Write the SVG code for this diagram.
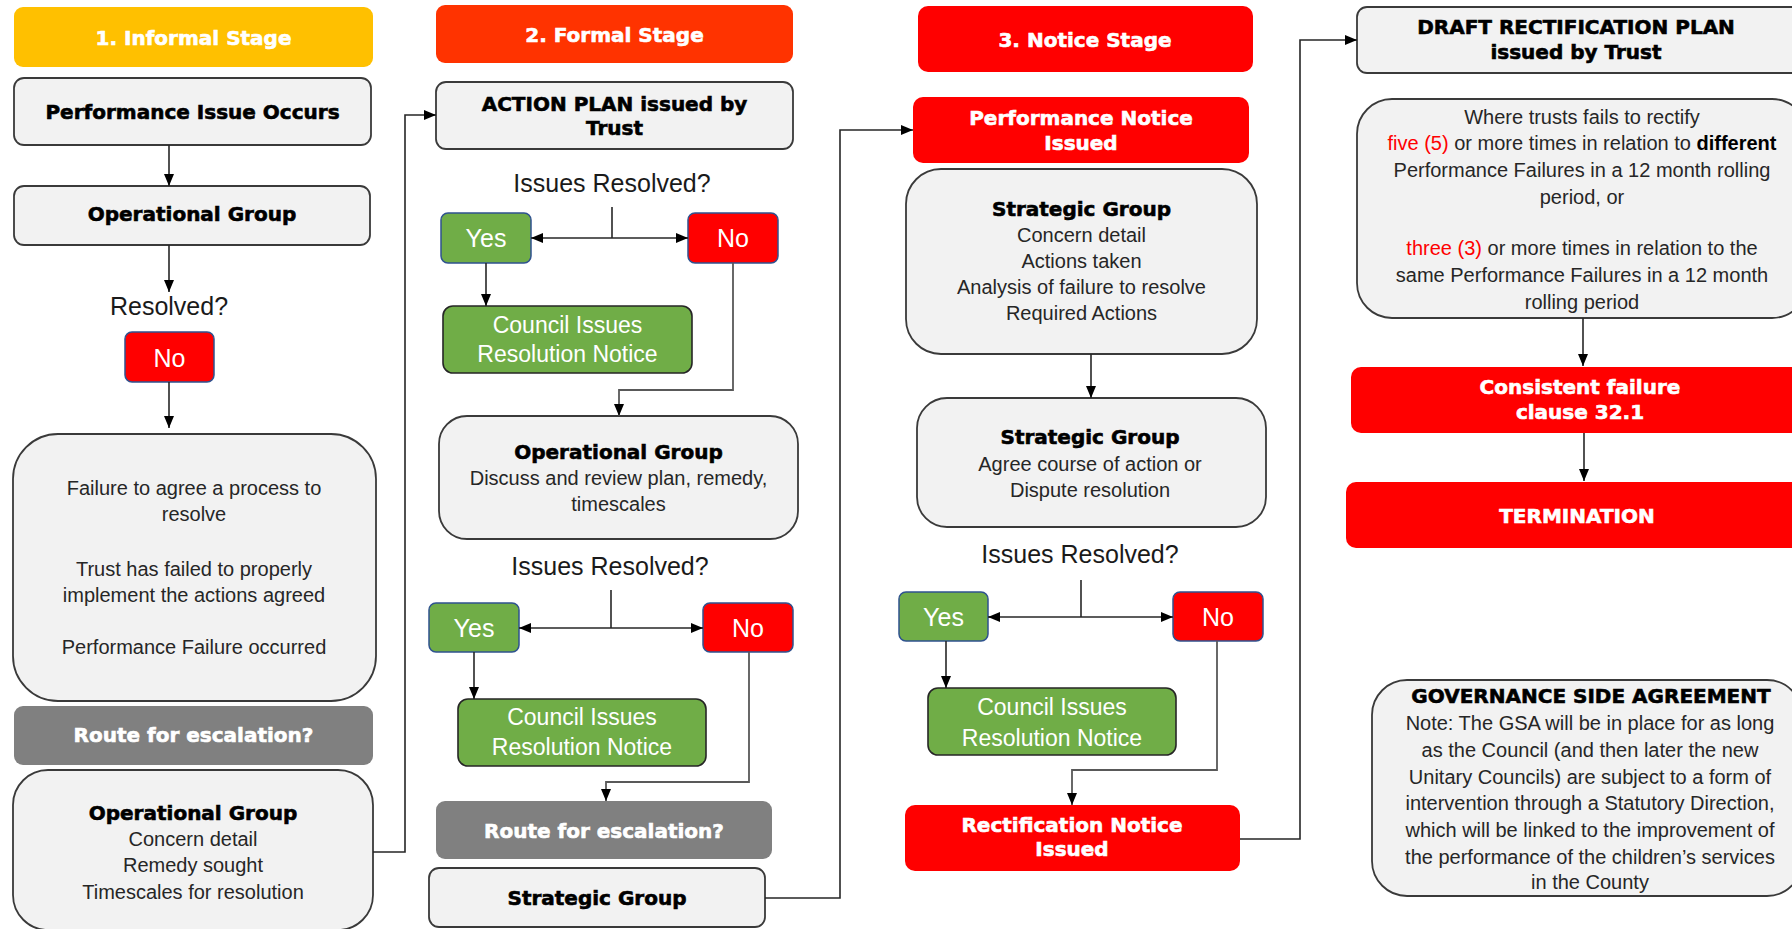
<svg xmlns="http://www.w3.org/2000/svg" width="1792" height="929" viewBox="0 0 1792 929">
<defs>
<marker id="ah" viewBox="0 0 12 12" refX="12" refY="6" markerWidth="12" markerHeight="12" markerUnits="userSpaceOnUse" orient="auto-start-reverse">
<path d="M0,1 L12,6 L0,11 z" fill="#000"/>
</marker>
<style>
.box{fill:#F2F2F2;stroke:#3a3a3a;stroke-width:1.8}
.red{fill:#FF0000}
.grn{fill:#70AD47;stroke:#2F528F;stroke-width:1.5}
.cgrn{fill:#70AD47;stroke:#262626;stroke-width:1.6}
.yn-red{fill:#FF0000;stroke:#2F528F;stroke-width:1.5}
.route{fill:#808080}
.hb{font-family:"DejaVu Sans",sans-serif;font-weight:bold;font-size:20px;text-anchor:middle;fill:#000;stroke:#000;stroke-width:0.6}
.hw{font-family:"DejaVu Sans",sans-serif;font-weight:bold;font-size:20px;text-anchor:middle;fill:#fff;stroke:#fff;stroke-width:0.6}
.t{font-family:"Liberation Sans",Arial,sans-serif;font-size:20px;text-anchor:middle;fill:#262626}
.q{font-family:"Liberation Sans",Arial,sans-serif;font-size:25px;text-anchor:middle;fill:#1a1a1a}
.yn{font-family:"Liberation Sans",Arial,sans-serif;font-size:25px;text-anchor:middle;fill:#fff}
.cw{font-family:"Liberation Sans",Arial,sans-serif;font-size:23px;text-anchor:middle;fill:#fff}
.c{fill:none;stroke:#262626;stroke-width:1.6}
.cg{fill:none;stroke:#595959;stroke-width:1.8}
.rt{fill:#FF0000}
</style>
</defs>

<g id="stage1"><rect x="14" y="7" width="359" height="60" rx="9" fill="#FFC000"/><text class="hw" x="193.5" y="45">1. Informal Stage</text></g>
<g id="perf-issue"><rect class="box" x="14" y="78" width="357" height="67" rx="10"/><text class="hb" x="192.5" y="118.5" font-size="20.5">Performance Issue Occurs</text></g>
<g id="op-group-1"><rect class="box" x="14" y="186" width="356" height="59" rx="10"/><text class="hb" x="192" y="221">Operational Group</text></g>
<g id="resolved-q"><text class="q" x="169" y="315">Resolved?</text></g>
<g id="no-1"><rect class="yn-red" x="125" y="332" width="89" height="50" rx="7"/><text class="yn" x="169.5" y="367">No</text></g>
<g id="failure-box"><rect class="box" x="13" y="434" width="363" height="267" rx="45"/>
<text class="t" x="194" y="495">Failure to agree a process to</text>
<text class="t" x="194" y="521">resolve</text>
<text class="t" x="194" y="576">Trust has failed to properly</text>
<text class="t" x="194" y="602">implement the actions agreed</text>
<text class="t" x="194" y="654">Performance Failure occurred</text></g>
<g id="route-1"><rect class="route" x="14" y="706" width="359" height="59" rx="9"/><text class="hw" x="193.5" y="742">Route for escalation?</text></g>
<g id="op-group-2"><rect class="box" x="13" y="770" width="360" height="160" rx="35"/>
<text class="hb" x="193" y="820">Operational Group</text>
<text class="t" x="193" y="846">Concern detail</text>
<text class="t" x="193" y="872">Remedy sought</text>
<text class="t" x="193" y="899">Timescales for resolution</text></g>

<g id="stage2"><rect x="436" y="5" width="357" height="58" rx="9" fill="#FF3300"/><text class="hw" x="614.5" y="42">2. Formal Stage</text></g>
<g id="action-plan"><rect class="box" x="436" y="82" width="357" height="67" rx="10"/><text class="hb" x="614.5" y="111">ACTION PLAN issued by</text><text class="hb" x="614.5" y="135">Trust</text></g>
<g id="issues-q-1"><text class="q" x="612" y="192">Issues Resolved?</text></g>
<g id="yes-2a"><rect class="grn" x="441" y="213" width="90" height="50" rx="7"/><text class="yn" x="486" y="247">Yes</text></g>
<g id="no-2a"><rect class="yn-red" x="688" y="213" width="90" height="50" rx="7"/><text class="yn" x="733" y="247">No</text></g>
<g id="council-2a"><rect class="cgrn" x="443" y="306" width="249" height="67" rx="10"/><text class="cw" x="567.5" y="333">Council Issues</text><text class="cw" x="567.5" y="362">Resolution Notice</text></g>
<g id="op-group-3"><rect class="box" x="439" y="416" width="359" height="123" rx="28"/>
<text class="hb" x="618.5" y="459">Operational Group</text>
<text class="t" x="618.5" y="485">Discuss and review plan, remedy,</text>
<text class="t" x="618.5" y="511">timescales</text></g>
<g id="issues-q-2"><text class="q" x="610" y="575">Issues Resolved?</text></g>
<g id="yes-2b"><rect class="grn" x="429" y="603" width="90" height="49" rx="7"/><text class="yn" x="474" y="637">Yes</text></g>
<g id="no-2b"><rect class="yn-red" x="703" y="603" width="90" height="49" rx="7"/><text class="yn" x="748" y="637">No</text></g>
<g id="council-2b"><rect class="cgrn" x="458" y="699" width="248" height="67" rx="10"/><text class="cw" x="582" y="725">Council Issues</text><text class="cw" x="582" y="755">Resolution Notice</text></g>
<g id="route-2"><rect class="route" x="436" y="801" width="336" height="58" rx="9"/><text class="hw" x="604" y="838">Route for escalation?</text></g>
<g id="strategic-1"><rect class="box" x="429" y="868" width="336" height="59" rx="10"/><text class="hb" x="597" y="905">Strategic Group</text></g>

<g id="stage3"><rect class="red" x="918" y="6" width="335" height="66" rx="10"/><text class="hw" x="1085" y="47">3. Notice Stage</text></g>
<g id="perf-notice"><rect class="red" x="913" y="97" width="336" height="66" rx="10"/><text class="hw" x="1081" y="125">Performance Notice</text><text class="hw" x="1081" y="150">Issued</text></g>
<g id="strategic-2"><rect class="box" x="906" y="169" width="351" height="185" rx="35"/>
<text class="hb" x="1081.5" y="216">Strategic Group</text>
<text class="t" x="1081.5" y="242">Concern detail</text>
<text class="t" x="1081.5" y="268">Actions taken</text>
<text class="t" x="1081.5" y="294">Analysis of failure to resolve</text>
<text class="t" x="1081.5" y="320">Required Actions</text></g>
<g id="strategic-3"><rect class="box" x="917" y="398" width="349" height="129" rx="30"/>
<text class="hb" x="1090" y="444">Strategic Group</text>
<text class="t" x="1090" y="471">Agree course of action or</text>
<text class="t" x="1090" y="497">Dispute resolution</text></g>
<g id="issues-q-3"><text class="q" x="1080" y="563">Issues Resolved?</text></g>
<g id="yes-3"><rect class="grn" x="899" y="592" width="89" height="49" rx="7"/><text class="yn" x="943.5" y="626">Yes</text></g>
<g id="no-3"><rect class="yn-red" x="1173" y="592" width="90" height="49" rx="7"/><text class="yn" x="1218" y="626">No</text></g>
<g id="council-3"><rect class="cgrn" x="928" y="688" width="248" height="67" rx="10"/><text class="cw" x="1052" y="715">Council Issues</text><text class="cw" x="1052" y="746">Resolution Notice</text></g>
<g id="rect-notice"><rect class="red" x="905" y="805" width="335" height="66" rx="10"/><text class="hw" x="1072" y="832">Rectification Notice</text><text class="hw" x="1072" y="856">Issued</text></g>

<g id="draft-plan"><rect class="box" x="1357" y="7" width="450" height="66" rx="10"/><text class="hb" x="1576" y="33.5" font-size="21">DRAFT RECTIFICATION PLAN</text><text class="hb" x="1576" y="58.5" font-size="21">issued by Trust</text></g>
<g id="where-box"><rect class="box" x="1357" y="99" width="450" height="219" rx="35"/>
<text class="t" x="1582" y="124">Where trusts fails to rectify</text>
<text class="t" x="1582" y="150"><tspan class="rt">five (5)</tspan> or more times in relation to <tspan font-weight="bold" fill="#000">different</tspan></text>
<text class="t" x="1582" y="177">Performance Failures in a 12 month rolling</text>
<text class="t" x="1582" y="204">period, or</text>
<text class="t" x="1582" y="255"><tspan class="rt">three (3)</tspan> or more times in relation to the</text>
<text class="t" x="1582" y="282">same Performance Failures in a 12 month</text>
<text class="t" x="1582" y="309">rolling period</text></g>
<g id="consistent"><rect class="red" x="1351" y="367" width="460" height="66" rx="10"/><text class="hw" x="1580" y="394">Consistent failure</text><text class="hw" x="1580" y="419">clause 32.1</text></g>
<g id="termination"><rect class="red" x="1346" y="482" width="460" height="66" rx="10"/><text class="hw" x="1577" y="522.5" font-size="21">TERMINATION</text></g>
<g id="gsa"><rect class="box" x="1372" y="680" width="430" height="216" rx="35"/>
<text class="hb" x="1591" y="702.5" font-size="21">GOVERNANCE SIDE AGREEMENT</text>
<text class="t" x="1590" y="730" font-size="20.5">Note: The GSA will be in place for as long</text>
<text class="t" x="1590" y="757" font-size="20.5">as the Council (and then later the new</text>
<text class="t" x="1590" y="784" font-size="20.5">Unitary Councils) are subject to a form of</text>
<text class="t" x="1590" y="810" font-size="20.5">intervention through a Statutory Direction,</text>
<text class="t" x="1590" y="837" font-size="20.5">which will be linked to the improvement of</text>
<text class="t" x="1590" y="864" font-size="20.5">the performance of the children’s services</text>
<text class="t" x="1590" y="889" font-size="20.5">in the County</text></g>

<g id="connectors">
<path class="c" d="M169,145 V186" marker-end="url(#ah)"/>
<path class="c" d="M169,245 V292" marker-end="url(#ah)"/>
<path class="c" d="M169,382 V428" marker-end="url(#ah)"/>
<path class="c" d="M373,852 H405 V115 H436" marker-end="url(#ah)"/>
<path class="c" d="M612,207 V238"/>
<path class="c" d="M531,238 H688" marker-start="url(#ah)" marker-end="url(#ah)"/>
<path class="c" d="M486,263 V306" marker-end="url(#ah)"/>
<path class="cg" d="M733,263 V390 H619 V416" marker-end="url(#ah)"/>
<path class="c" d="M611,590 V628"/>
<path class="c" d="M519,628 H703" marker-start="url(#ah)" marker-end="url(#ah)"/>
<path class="c" d="M474,652 V699" marker-end="url(#ah)"/>
<path class="cg" d="M749,652 V782 H606 V801" marker-end="url(#ah)"/>
<path class="c" d="M765,898 H840 V130 H913" marker-end="url(#ah)"/>
<path class="c" d="M1091,354 V398" marker-end="url(#ah)"/>
<path class="c" d="M1081,580 V617"/>
<path class="c" d="M988,617 H1173" marker-start="url(#ah)" marker-end="url(#ah)"/>
<path class="c" d="M946,641 V688" marker-end="url(#ah)"/>
<path class="cg" d="M1217,641 V770 H1072 V805" marker-end="url(#ah)"/>
<path class="c" d="M1240,839 H1300 V40 H1357" marker-end="url(#ah)"/>
<path class="c" d="M1583,318 V366" marker-end="url(#ah)"/>
<path class="c" d="M1584,433 V481" marker-end="url(#ah)"/>
</g>
</svg>
